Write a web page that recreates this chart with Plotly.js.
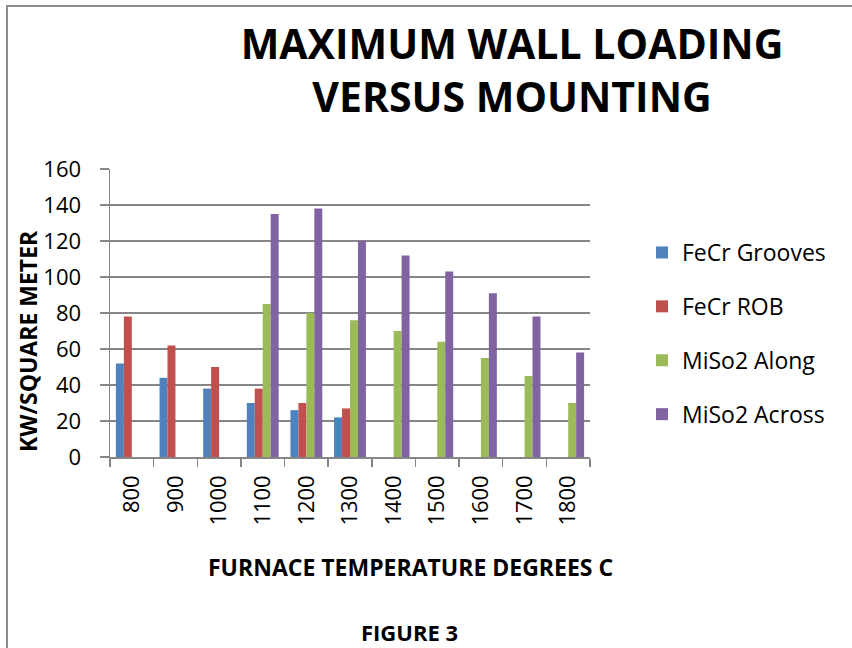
<!DOCTYPE html>
<html>
<head>
<meta charset="utf-8">
<script src="https://cdn.plot.ly/plotly-3.0.1.min.js"></script>
<style>
  html, body { margin: 0; padding: 0; background: #fff; }
  #chart { width: 852px; height: 648px; }
</style>
</head>
<body>
<div id="chart"></div>
<script>
// Furnace temperatures (degrees C) used as category labels
const temperatures = ['800', '900', '1000', '1100', '1200', '1300', '1400', '1500', '1600', '1700', '1800'];

// Maximum wall loading, kW per square metre, for each mounting
const fecrGrooves = [52, 44, 38, 30, 26, 22, null, null, null, null, null];
const fecrRob     = [78, 62, 50, 38, 30, 27, null, null, null, null, null];
const miso2Along  = [null, null, null, 85, 80, 76, 70, 64, 55, 45, 30];
const miso2Across = [null, null, null, 135, 138, 120, 112, 103, 91, 78, 58];

const seriesNames  = ['FeCr Grooves', 'FeCr ROB', 'MiSo2 Along', 'MiSo2 Across'];
const seriesValues = [fecrGrooves, fecrRob, miso2Along, miso2Across];
const seriesColors = ['#4F81BD', '#C0504D', '#9BBB59', '#8064A2'];

const FONT = '"Open Sans", "Liberation Sans", sans-serif';
const GREY = '#868686';

const traces = seriesNames.map((name, i) => ({
  type: 'bar',
  name: name,
  x: temperatures,
  y: seriesValues[i],
  legendgroup: 'g' + i,
  marker: { color: seriesColors[i] },
  hoverinfo: 'x+y+name'
}));

// plot area geometry in pixels
const W = 852, H = 648;
const M = { l: 110, r: 262, t: 169, b: 191 };
const pw = W - M.l - M.r, ph = H - M.t - M.b;
const px = (x) => (x - M.l) / pw;          // pixel -> paper x
const py = (y) => (H - M.b - y) / ph;      // pixel -> paper y

const layout = {
  width: W,
  height: H,
  margin: M,
  paper_bgcolor: '#ffffff',
  plot_bgcolor: '#ffffff',
  font: { family: FONT, color: '#000000', size: 22 },
  showlegend: true,
  title: {
    text: 'MAXIMUM WALL LOADING<br>VERSUS MOUNTING',
    font: { family: FONT, size: 41, color: '#000000', weight: 'bold' },
    x: 512 / W,
    xanchor: 'center',
    y: 1 - 59 / H,
    yanchor: 'middle',
    xref: 'container',
    yref: 'container'
  },
  barmode: 'group',
  bargap: 0.27,
  bargroupgap: 0,
  xaxis: {
    type: 'category',
    tickson: 'boundaries',
    ticks: 'outside',
    ticklen: 8,
    tickwidth: 1.5,
    tickcolor: GREY,
    tickangle: -90,
    ticklabelstandoff: 8,
    tickfont: { family: FONT, size: 22, color: '#000000' },
    showline: true,
    linecolor: GREY,
    linewidth: 1.5,
    showgrid: false,
    zeroline: false,
    fixedrange: true
  },
  yaxis: {
    range: [0, 160],
    dtick: 20,
    ticks: 'outside',
    ticklen: 9,
    tickwidth: 1.5,
    tickcolor: GREY,
    ticklabelstandoff: 14,
    tickfont: { family: FONT, size: 22, color: '#000000' },
    showline: true,
    linecolor: GREY,
    linewidth: 1.5,
    showgrid: true,
    gridcolor: GREY,
    gridwidth: 1.3,
    zeroline: false,
    fixedrange: true
  },
  legend: {
    x: px(642),
    xanchor: 'left',
    y: py(231),
    yanchor: 'top',
    traceorder: 'grouped',
    tracegroupgap: 21,
    font: { family: FONT, size: 23, color: '#000000' },
    bgcolor: 'rgba(0,0,0,0)',
    borderwidth: 0
  },
  annotations: [
    {
      text: '<b>KW/SQUARE METER</b>',
      xref: 'paper', yref: 'paper',
      x: px(28), y: py(341),
      xanchor: 'center', yanchor: 'middle',
      textangle: -90,
      showarrow: false,
      font: { family: FONT, size: 23, color: '#000000' }
    },
    {
      text: '<b>FURNACE TEMPERATURE DEGREES C</b>',
      xref: 'paper', yref: 'paper',
      x: px(410), y: py(567),
      xanchor: 'center', yanchor: 'middle',
      showarrow: false,
      font: { family: FONT, size: 23, color: '#000000' }
    },
    {
      text: '<b>FIGURE 3</b>',
      xref: 'paper', yref: 'paper',
      x: px(409), y: py(632),
      xanchor: 'center', yanchor: 'middle',
      showarrow: false,
      font: { family: FONT, size: 22, color: '#000000' }
    }
  ],
  shapes: [
    // outer frame (top and left edges)
    {
      type: 'path',
      xref: 'paper', yref: 'paper',
      path: 'M ' + px(7) + ' ' + py(H + 10) + ' L ' + px(7) + ' ' + py(6) + ' L ' + px(W + 10) + ' ' + py(6),
      line: { color: '#8c8c8c', width: 2 }
    }
  ]
};

Plotly.newPlot('chart', traces, layout, { displayModeBar: false, staticPlot: true });
</script>
</body>
</html>
